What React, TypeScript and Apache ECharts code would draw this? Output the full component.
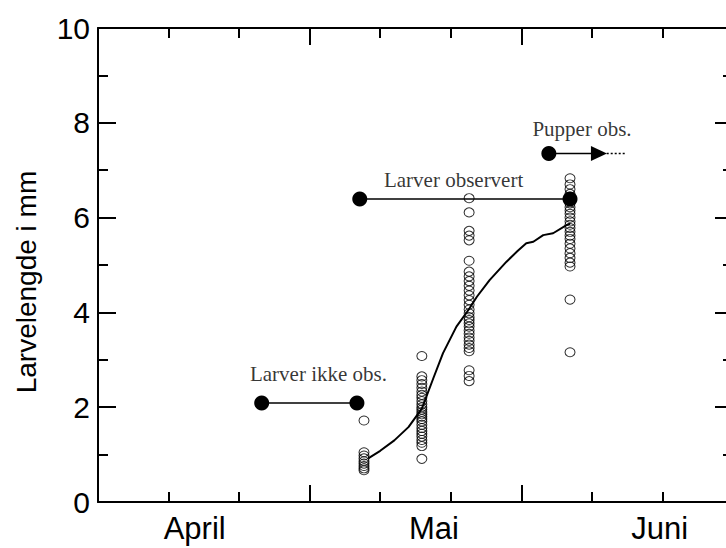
import React, { useEffect, useRef } from "react";
import * as echarts from "echarts";

// x = days from the start of the plotted period (ticks every 10 days, major every 30)
const monthLabels = ["April", "Mai", "Juni"];
const monthLabelDays = [13.7, 47.6, 79.6];

const sampleDays = [37.7, 45.9, 52.6, 66.9];
const sample1 = [1.72, 1.05, 0.98, 0.92, 0.86, 0.81, 0.76, 0.71, 0.67];
const sample2 = [3.08, 2.65, 2.57, 2.49, 2.41, 2.33, 2.26, 2.2, 2.13, 2.06, 2.0, 1.95, 1.9, 1.85, 1.8, 1.75, 1.7, 1.63, 1.56, 1.5, 1.44, 1.38, 1.31, 1.25, 1.18, 0.91];
const sample3 = [6.41, 6.11, 5.72, 5.62, 5.52, 5.09, 4.86, 4.76, 4.66, 4.56, 4.46, 4.36, 4.26, 4.16, 4.06, 3.98, 3.9, 3.84, 3.77, 3.7, 3.62, 3.55, 3.47, 3.4, 3.32, 3.25, 3.18, 2.78, 2.66, 2.55];
const sample4 = [6.83, 6.7, 6.6, 6.5, 6.44, 6.37, 6.3, 6.22, 6.15, 6.08, 6.0, 5.92, 5.85, 5.78, 5.7, 5.62, 5.55, 5.45, 5.35, 5.25, 5.15, 5.05, 4.97, 4.27, 3.16];
const samples = [sample1, sample2, sample3, sample4];

const curveDays = [38.3, 40.0, 42.0, 44.0, 45.9, 47.5, 48.9, 50.8, 52.5, 53.7, 55.5, 57.9, 59.5, 60.7, 61.7, 63.1, 64.5, 66.4, 66.9];
const curveValues = [0.92, 1.08, 1.3, 1.58, 1.97, 2.6, 3.14, 3.7, 4.05, 4.33, 4.68, 5.07, 5.3, 5.46, 5.49, 5.63, 5.67, 5.84, 5.87];

const notObservedDays = [23.2, 36.7];
const notObservedLevel = 2.09;
const observedDays = [37.1, 66.9];
const observedLevel = 6.39;
const pupaDays = [63.9, 71.0];
const pupaLevel = 7.35;
const pupaDottedDays = [72.1, 74.7];

const annotationTexts = ["Larver ikke obs.", "Larver observert", "Pupper obs."];
const annotationDays = [31.25, 50.4, 68.6];
const annotationLevels = [2.69, 6.8, 7.87];

const SANS = "'Liberation Sans', Arial, Helvetica, sans-serif";
const SERIF = "'Liberation Serif', 'Times New Roman', Times, serif";

function makeXAxis(position: "bottom" | "top", withLabels: boolean) {
  return {
    type: "value",
    position,
    min: 0,
    max: 90,
    interval: 30,
    axisLine: { show: true, onZero: false, lineStyle: { color: "#000", width: 2 } },
    axisTick: { show: true, inside: true, length: 17, lineStyle: { color: "#000", width: 2 } },
    minorTick: { show: true, splitNumber: 3, length: 10, lineStyle: { color: "#000", width: 2 } },
    splitLine: { show: false },
    minorSplitLine: { show: false },
    axisLabel: withLabels
      ? {
          show: true,
          customValues: monthLabelDays,
          formatter: (v: number) => {
            let best = 0;
            monthLabelDays.forEach((d, i) => {
              if (Math.abs(d - v) < Math.abs(monthLabelDays[best] - v)) best = i;
            });
            return monthLabels[best];
          },
          color: "#000",
          fontSize: 31,
          fontFamily: SANS,
          margin: 11,
        }
      : { show: false },
  };
}

function makeYAxis(position: "left" | "right", withLabels: boolean) {
  return {
    type: "value",
    position,
    min: 0,
    max: 10,
    interval: 2,
    axisLine: { show: true, onZero: false, lineStyle: { color: "#000", width: 2 } },
    axisTick: { show: true, inside: true, length: 18, lineStyle: { color: "#000", width: 2 } },
    minorTick: { show: true, splitNumber: 2, length: 10, lineStyle: { color: "#000", width: 2 } },
    splitLine: { show: false },
    minorSplitLine: { show: false },
    axisLabel: withLabels
      ? { show: true, color: "#000", fontSize: 30, fontFamily: SANS, margin: 8 }
      : { show: false },
  };
}

export default function App() {
  const ref = useRef<HTMLDivElement>(null);

  useEffect(() => {
    if (!ref.current) return;
    const chart = echarts.init(ref.current, undefined, { renderer: "svg" });

    const openCircles: number[][] = [];
    samples.forEach((vals, i) => vals.forEach((v) => openCircles.push([sampleDays[i], v])));

    const option: any = {
      animation: false,
      backgroundColor: "#fff",
      grid: { left: 98, top: 28, width: 635, height: 474, containLabel: false, outerBoundsMode: "none" },
      xAxis: [makeXAxis("bottom", true), makeXAxis("top", false)],
      yAxis: [makeYAxis("left", true), makeYAxis("right", false)],
      graphic: [
        {
          type: "text",
          x: 26,
          y: 282,
          rotation: Math.PI / 2,
          style: {
            text: "Larvelengde i mm",
            fontSize: 28,
            fontFamily: SANS,
            fill: "#000",
            align: "center",
            verticalAlign: "middle",
          },
        },
      ],
      series: [
        {
          type: "scatter",
          xAxisIndex: 0,
          yAxisIndex: 0,
          data: openCircles,
          symbol: "circle",
          symbolSize: [10, 9],
          itemStyle: { color: "rgba(0,0,0,0)", borderColor: "#000", borderWidth: 1 },
          z: 2,
        },
        {
          type: "line",
          xAxisIndex: 0,
          yAxisIndex: 0,
          data: curveDays.map((d, i) => [d, curveValues[i]]),
          symbol: "none",
          smooth: false,
          lineStyle: { color: "#000", width: 2 },
          z: 3,
        },
        {
          type: "line",
          xAxisIndex: 0,
          yAxisIndex: 0,
          data: notObservedDays.map((d) => [d, notObservedLevel]),
          symbol: "circle",
          symbolSize: 15,
          showSymbol: true,
          itemStyle: { color: "#000" },
          lineStyle: { color: "#000", width: 1.5 },
          z: 4,
        },
        {
          type: "line",
          xAxisIndex: 0,
          yAxisIndex: 0,
          data: observedDays.map((d) => [d, observedLevel]),
          symbol: "circle",
          symbolSize: 15,
          showSymbol: true,
          itemStyle: { color: "#000" },
          lineStyle: { color: "#000", width: 1.5 },
          z: 4,
        },
        {
          type: "line",
          xAxisIndex: 0,
          yAxisIndex: 0,
          symbolKeepAspect: false,
          data: [
            { value: [pupaDays[0], pupaLevel], symbol: "circle", symbolSize: 15 },
            { value: [pupaDays[1], pupaLevel], symbol: "path://M0,0L10,5L0,10Z", symbolSize: [16, 15] },
          ],
          showSymbol: true,
          itemStyle: { color: "#000" },
          lineStyle: { color: "#000", width: 1.5 },
          z: 4,
        },
        {
          type: "line",
          xAxisIndex: 0,
          yAxisIndex: 0,
          data: pupaDottedDays.map((d) => [d, pupaLevel]),
          symbol: "none",
          lineStyle: { color: "#000", width: 1.5, type: [2, 2] },
          z: 4,
        },
        {
          type: "scatter",
          xAxisIndex: 0,
          yAxisIndex: 0,
          symbol: "circle",
          symbolSize: 0,
          itemStyle: { color: "rgba(0,0,0,0)" },
          data: annotationTexts.map((t, i) => ({ name: t, value: [annotationDays[i], annotationLevels[i]] })),
          label: {
            show: true,
            position: "inside",
            formatter: "{b}",
            color: "#000",
            fontSize: 21,
            fontFamily: SERIF,
          },
          z: 5,
        },
      ],
    };

    chart.setOption(option);
    return () => chart.dispose();
  }, []);

  return (
    <div
      ref={ref}
      style={{ position: "absolute", left: 0, top: 0, width: 726, height: 548, background: "#fff" }}
    />
  );
}
